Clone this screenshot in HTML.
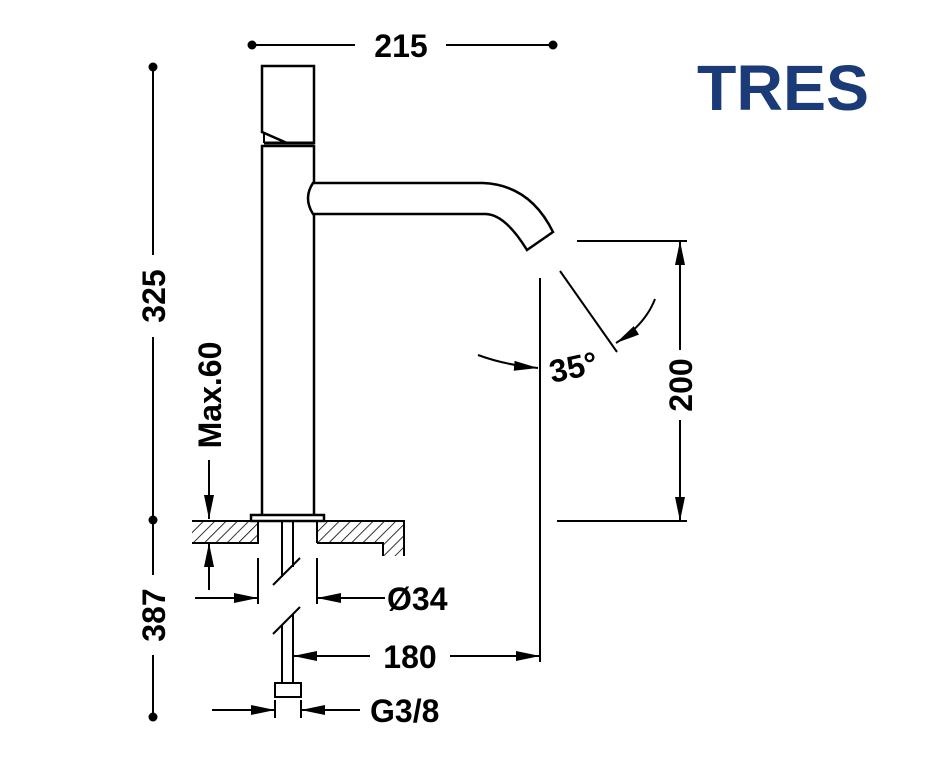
<!DOCTYPE html>
<html><head><style>html,body{margin:0;padding:0;background:#fff;}svg{display:block}</style></head>
<body>
<svg width="949" height="761" viewBox="0 0 949 761" xmlns="http://www.w3.org/2000/svg">
<defs>
<pattern id="h" width="8" height="8" patternUnits="userSpaceOnUse" patternTransform="rotate(45)">
<line x1="0" y1="0" x2="0" y2="8" stroke="#000" stroke-width="1.6"/></pattern>
<marker id="a" viewBox="0 0 24 10" refX="24" refY="5" markerWidth="24" markerHeight="10" markerUnits="userSpaceOnUse" orient="auto"><path d="M0,0 L24,5 L0,10 z" fill="#000"/></marker>
</defs>
<g stroke="#000" stroke-width="2" fill="none">
<line x1="252" y1="45" x2="355" y2="45"/><line x1="446" y1="45" x2="553" y2="45"/>
<line x1="153" y1="67" x2="153" y2="255"/><line x1="153" y1="337" x2="153" y2="520"/>
<line x1="153" y1="520" x2="153" y2="575"/><line x1="153" y1="655" x2="153" y2="717"/>
<path d="M262,66 H314 V143 H287 L262,132 Z" stroke-width="2.5"/>
<line x1="264" y1="143" x2="314" y2="143" stroke-width="3"/>
<line x1="264" y1="134" x2="264" y2="143"/>
<path d="M262,515 V146 H314 V183 M314,214 V515" stroke-width="2.5"/>
<path d="M313,183 H483 Q530,185 553,232 L527,250 Q505,214 485,214 H313 Q303,198 313,183 Z" stroke-width="2.5"/>
<rect x="251" y="515" width="73" height="6" stroke-width="2.5"/>
<path d="M192,521 H258 V543 H192 Z" fill="url(#h)" stroke="none"/>
<path d="M192,521 H258 V543 H192" />
<path d="M317,521 H404 V556 H383 V543 H317 Z" fill="url(#h)" stroke="none"/>
<path d="M317,543 V521 H404 V556 M383,556 V543 H317"/>
<line x1="282" y1="521" x2="282" y2="577"/><line x1="293" y1="521" x2="293" y2="567"/>
<line x1="273" y1="585" x2="300" y2="558"/>
<line x1="273" y1="634" x2="300" y2="607"/>
<line x1="282" y1="625" x2="282" y2="683"/><line x1="293" y1="614" x2="293" y2="683"/>
<rect x="275" y="683" width="26" height="14"/>
<line x1="258" y1="558" x2="258" y2="604"/><line x1="317" y1="558" x2="317" y2="604"/>
<line x1="195" y1="598" x2="258" y2="598" marker-end="url(#a)"/>
<line x1="385" y1="598" x2="317" y2="598" marker-end="url(#a)"/>
<line x1="209" y1="460" x2="209" y2="519" marker-end="url(#a)"/>
<line x1="209" y1="590" x2="209" y2="543" marker-end="url(#a)"/>
<line x1="370" y1="656" x2="293" y2="656" marker-end="url(#a)"/>
<line x1="450" y1="656" x2="540" y2="656" marker-end="url(#a)"/>
<line x1="540" y1="278" x2="540" y2="662"/>
<line x1="275" y1="700" x2="275" y2="718"/><line x1="301" y1="700" x2="301" y2="718"/>
<line x1="212" y1="710" x2="275" y2="710" marker-end="url(#a)"/>
<line x1="360" y1="710" x2="301" y2="710" marker-end="url(#a)"/>
<line x1="577" y1="241" x2="687" y2="241"/><line x1="557" y1="521" x2="687" y2="521"/>
<line x1="680" y1="350" x2="680" y2="241" marker-end="url(#a)"/>
<line x1="680" y1="420" x2="680" y2="521" marker-end="url(#a)"/>
<line x1="560" y1="271" x2="617" y2="352"/>
<path d="M655,299 Q645,325 616,343" marker-end="url(#a)"/>
<path d="M478,355 Q505,365 538,368" marker-end="url(#a)"/>
</g>
<g fill="#000">
<circle cx="252" cy="45" r="4.5"/><circle cx="553" cy="45" r="4.5"/>
<circle cx="153" cy="67" r="4.5"/><circle cx="153" cy="520" r="4.5"/><circle cx="153" cy="717" r="4.5"/>
</g>
<g font-family="Liberation Sans, sans-serif" font-weight="bold" font-size="32" fill="#000">
<text x="401" y="57" text-anchor="middle">215</text>
<text transform="translate(165,296) rotate(-90)" text-anchor="middle">325</text>
<text transform="translate(165,615) rotate(-90)" text-anchor="middle">387</text>
<text transform="translate(221,395) rotate(-90)" text-anchor="middle">Max.60</text>
<text transform="translate(692,385) rotate(-90)" text-anchor="middle">200</text>
<text x="387" y="610">Ø34</text>
<text x="410" y="668" text-anchor="middle">180</text>
<text x="370" y="722">G3/8</text>
<text transform="translate(552,383) rotate(-12)">35°</text>
</g>
<text x="697" y="110" font-family="Liberation Sans, sans-serif" font-weight="bold" font-size="64" fill="#1a3a78" textLength="172" lengthAdjust="spacingAndGlyphs">TRES</text>
</svg>
</body></html>
